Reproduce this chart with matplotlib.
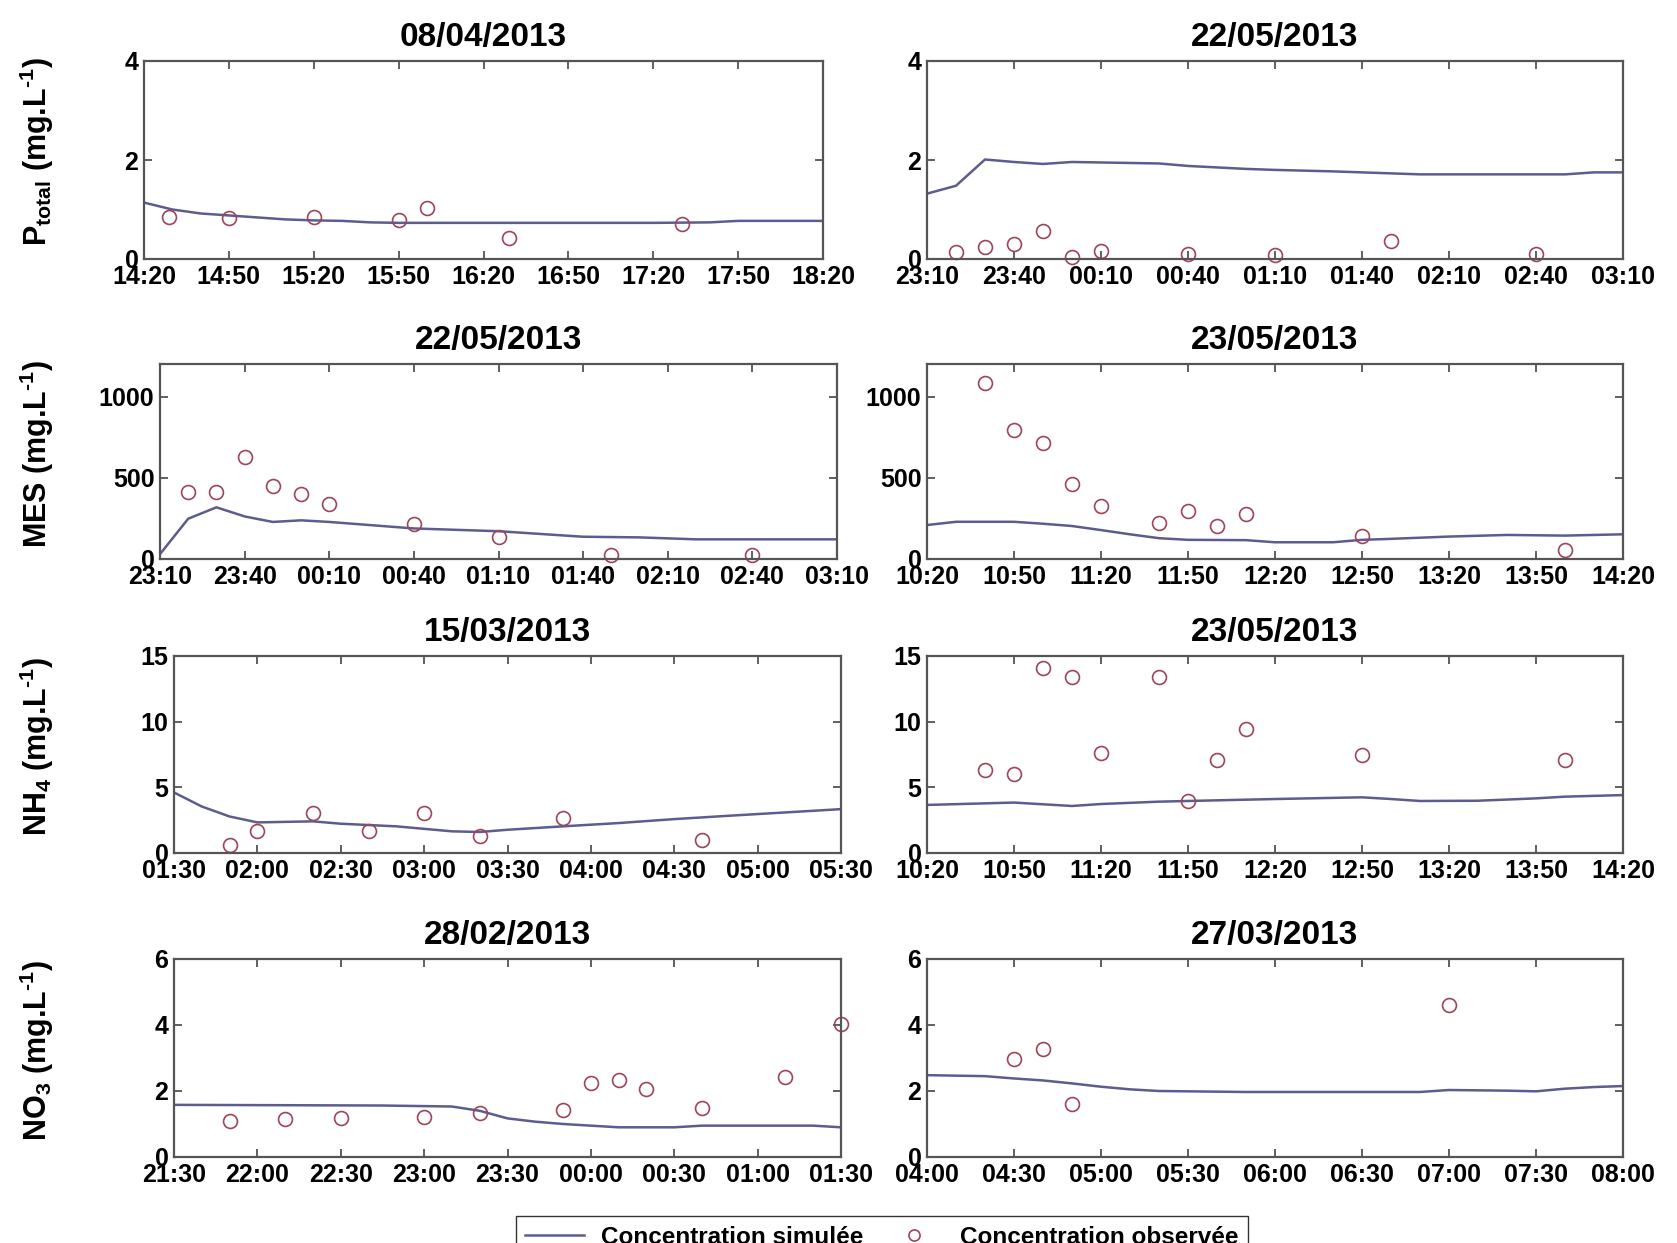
import matplotlib
matplotlib.use("Agg")
import matplotlib.pyplot as plt
from matplotlib.lines import Line2D

plt.rcParams["font.family"] = ["Liberation Sans", "DejaVu Sans"]
plt.rcParams["font.weight"] = "bold"
plt.rcParams["mathtext.fontset"] = "custom"
plt.rcParams["mathtext.rm"] = "Liberation Sans:bold"
plt.rcParams["mathtext.bf"] = "Liberation Sans:bold"
plt.rcParams["mathtext.default"] = "bf"

# ---- data: times as HH:MM, values in mg/L ----
# P total, 08/04/2013
p1_ticks = ["14:20", "14:50", "15:20", "15:50", "16:20", "16:50", "17:20", "17:50", "18:20"]
p1_sim_t = ["14:20", "14:30", "14:40", "14:50", "15:00", "15:10", "15:20", "15:30", "15:40",
            "15:50", "16:30", "17:20", "17:40", "17:50", "18:20"]
p1_sim = [1.14, 1.00, 0.92, 0.88, 0.84, 0.80, 0.78, 0.77, 0.74, 0.73, 0.73, 0.73, 0.74, 0.77, 0.77]
p1_obs_t = ["14:29", "14:50", "15:20", "15:50", "16:00", "16:29", "17:30"]
p1_obs = [0.84, 0.83, 0.84, 0.79, 1.03, 0.42, 0.71]

# P total, 22/05/2013
p2_ticks = ["23:10", "23:40", "00:10", "00:40", "01:10", "01:40", "02:10", "02:40", "03:10"]
p2_sim_t = ["23:10", "23:20", "23:30", "23:40", "23:50", "00:00", "00:10", "00:30", "00:40",
            "01:00", "01:10", "01:30", "01:50", "02:00", "02:50", "03:00", "03:10"]
p2_sim = [1.32, 1.48, 2.01, 1.96, 1.92, 1.96, 1.95, 1.93, 1.88, 1.82, 1.80, 1.77, 1.73,
          1.71, 1.71, 1.75, 1.75]
p2_obs_t = ["23:20", "23:30", "23:40", "23:50", "00:00", "00:10", "00:40", "01:10", "01:50", "02:40"]
p2_obs = [0.15, 0.24, 0.30, 0.56, 0.05, 0.17, 0.10, 0.08, 0.37, 0.10]

# MES, 22/05/2013
m1_ticks = p2_ticks
m1_sim_t = ["23:10", "23:20", "23:30", "23:40", "23:50", "00:00", "00:10", "00:40", "01:10",
            "01:40", "02:00", "02:20", "03:10"]
m1_sim = [30, 248, 318, 262, 228, 238, 228, 188, 171, 137, 133, 121, 121]
m1_obs_t = ["23:20", "23:30", "23:40", "23:50", "00:00", "00:10", "00:40", "01:10", "01:50", "02:40"]
m1_obs = [411, 413, 625, 450, 403, 339, 214, 133, 22, 22]

# MES, 23/05/2013
m2_ticks = ["10:20", "10:50", "11:20", "11:50", "12:20", "12:50", "13:20", "13:50", "14:20"]
m2_sim_t = ["10:20", "10:30", "10:50", "11:00", "11:10", "11:20", "11:30", "11:40", "11:50",
            "12:10", "12:20", "12:40", "12:50", "13:00", "13:20", "13:40", "14:00", "14:20"]
m2_sim = [209, 229, 229, 217, 203, 178, 152, 128, 118, 116, 103, 103, 118, 124, 138, 148, 144, 152]
m2_obs_t = ["10:40", "10:50", "11:00", "11:10", "11:20", "11:40", "11:50", "12:00", "12:10",
            "12:50", "14:00"]
m2_obs = [1085, 791, 712, 462, 327, 223, 294, 205, 280, 140, 57]

# NH4, 15/03/2013
n1_ticks = ["01:30", "02:00", "02:30", "03:00", "03:30", "04:00", "04:30", "05:00", "05:30"]
n1_sim_t = ["01:30", "01:40", "01:50", "02:00", "02:20", "02:30", "02:50", "03:10", "03:20",
            "03:30", "03:50", "04:10", "04:30", "04:50", "05:10", "05:30"]
n1_sim = [4.61, 3.54, 2.78, 2.33, 2.41, 2.23, 2.03, 1.65, 1.60, 1.77, 2.03, 2.28, 2.58,
          2.84, 3.09, 3.34]
n1_obs_t = ["01:50", "02:00", "02:20", "02:40", "03:00", "03:20", "03:50", "04:40"]
n1_obs = [0.58, 1.70, 3.04, 1.70, 3.04, 1.32, 2.66, 0.96]

# NH4, 23/05/2013
n2_ticks = m2_ticks
n2_sim_t = ["10:20", "10:50", "11:10", "11:20", "11:40", "11:50", "12:20", "12:50", "13:00",
            "13:10", "13:30", "13:50", "14:00", "14:20"]
n2_sim = [3.66, 3.84, 3.58, 3.73, 3.91, 3.96, 4.11, 4.24, 4.11, 3.96, 3.98, 4.16, 4.29, 4.41]
n2_obs_t = ["10:40", "10:50", "11:00", "11:10", "11:20", "11:40", "11:50", "12:00", "12:10",
            "12:50", "14:00"]
n2_obs = [6.35, 6.0, 14.1, 13.4, 7.6, 13.4, 3.96, 7.06, 9.45, 7.44, 7.06]

# NO3, 28/02/2013
o1_ticks = ["21:30", "22:00", "22:30", "23:00", "23:30", "00:00", "00:30", "01:00", "01:30"]
o1_sim_t = ["21:30", "22:45", "23:10", "23:20", "23:30", "23:40", "23:50", "00:00", "00:10",
            "00:30", "00:40", "01:20", "01:30"]
o1_sim = [1.58, 1.56, 1.53, 1.40, 1.17, 1.07, 1.00, 0.95, 0.90, 0.90, 0.95, 0.95, 0.90]
o1_obs_t = ["21:50", "22:10", "22:30", "23:00", "23:20", "23:50", "00:00", "00:10", "00:20",
            "00:40", "01:10", "01:30"]
o1_obs = [1.10, 1.15, 1.18, 1.20, 1.33, 1.43, 2.25, 2.32, 2.05, 1.47, 2.42, 4.04]

# NO3, 27/03/2013
o2_ticks = ["04:00", "04:30", "05:00", "05:30", "06:00", "06:30", "07:00", "07:30", "08:00"]
o2_sim_t = ["04:00", "04:20", "04:30", "04:40", "04:50", "05:00", "05:10", "05:20", "05:50",
            "06:50", "07:00", "07:20", "07:30", "07:40", "07:50", "08:00"]
o2_sim = [2.48, 2.45, 2.38, 2.32, 2.23, 2.13, 2.05, 2.00, 1.97, 1.97, 2.03, 2.01, 1.99,
          2.07, 2.12, 2.15]
o2_obs_t = ["04:30", "04:40", "04:50", "07:00"]
o2_obs = [2.96, 3.28, 1.60, 4.61]

LINE_C = "#5c5c8e"
OBS_C = "#a04458"


def minutes(times, start):
    """HH:MM strings -> minutes after start, wrapping past midnight."""
    h0, m0 = map(int, start.split(":"))
    out = []
    for t in times:
        h, m = map(int, t.split(":"))
        d = (h * 60 + m) - (h0 * 60 + m0)
        if d < 0:
            d += 24 * 60
        out.append(d)
    return out


panels = [
    # (axes rect in px: left, right, top, bottom), title, ticks, sim_t, sim, obs_t, obs, ylim, yticks
    ((144, 823, 61, 259), "08/04/2013", p1_ticks, p1_sim_t, p1_sim, p1_obs_t, p1_obs, 4, [0, 2, 4]),
    ((927, 1623, 61, 259), "22/05/2013", p2_ticks, p2_sim_t, p2_sim, p2_obs_t, p2_obs, 4, [0, 2, 4]),
    ((160, 837, 364, 559), "22/05/2013", m1_ticks, m1_sim_t, m1_sim, m1_obs_t, m1_obs, 1200, [0, 500, 1000]),
    ((927, 1623, 364, 559), "23/05/2013", m2_ticks, m2_sim_t, m2_sim, m2_obs_t, m2_obs, 1200, [0, 500, 1000]),
    ((174, 841, 656, 853), "15/03/2013", n1_ticks, n1_sim_t, n1_sim, n1_obs_t, n1_obs, 15, [0, 5, 10, 15]),
    ((927, 1623, 656, 853), "23/05/2013", n2_ticks, n2_sim_t, n2_sim, n2_obs_t, n2_obs, 15, [0, 5, 10, 15]),
    ((174, 841, 959, 1157), "28/02/2013", o1_ticks, o1_sim_t, o1_sim, o1_obs_t, o1_obs, 6, [0, 2, 4, 6]),
    ((927, 1623, 959, 1157), "27/03/2013", o2_ticks, o2_sim_t, o2_sim, o2_obs_t, o2_obs, 6, [0, 2, 4, 6]),
]

ylabels = [
    r"$\mathbf{P_{total}}$ (mg.L$^{\text{-}1}$)",
    r"MES (mg.L$^{\text{-}1}$)",
    r"$\mathbf{NH_4}$ (mg.L$^{\text{-}1}$)",
    r"$\mathbf{NO_3}$ (mg.L$^{\text{-}1}$)",
]

W, H = 1677, 1243
fig = plt.figure(figsize=(W / 100, H / 100), dpi=100)

for (l, r, t, b), title, ticks, sim_t, sim, obs_t, obs, ymax, yticks in panels:
    ax = fig.add_axes([l / W, 1 - b / H, (r - l) / W, (b - t) / H])
    start = ticks[0]
    ax.plot(minutes(sim_t, start), sim, color=LINE_C, lw=1.8)
    ax.plot(minutes(obs_t, start), obs, "o", ms=10, mfc="none", mec=OBS_C, mew=1.2,
            clip_on=False)
    ax.set_xlim(0, 240)
    ax.set_ylim(0, ymax)
    ax.set_xticks(range(0, 241, 30))
    ax.set_xticklabels(ticks)
    ax.set_yticks(yticks)
    ax.tick_params(direction="in", top=True, right=True, length=6, width=1.2,
                   labelsize=18, pad=4, color="#444444")
    for lab in ax.get_xticklabels() + ax.get_yticklabels():
        lab.set_fontweight("bold")
    for s in ax.spines.values():
        s.set_linewidth(1.6)
        s.set_color("#555555")
    ax.set_title(title, fontsize=24, fontweight="bold", pad=11)

for i, lab in enumerate(ylabels):
    l, r, t, b = panels[2 * i][0]
    fig.text(37 / W, 1 - ((t + b) / 2 - 8) / H, lab, rotation=90, ha="center", va="center",
             fontsize=22, fontweight="bold")

handles = [
    Line2D([], [], color=LINE_C, lw=1.8),
    Line2D([], [], marker="o", ls="none", ms=8, mfc="none", mec=OBS_C, mew=1.2),
]
fig.legend(handles, ["Concentration simulée", "Concentration observée"], ncol=2,
           loc="upper center", bbox_to_anchor=(882 / W, 1 - 1204 / H), frameon=True,
           fancybox=False, edgecolor="black", fontsize=17.5, handlelength=2.4,
           columnspacing=0.9, borderpad=0.4, handletextpad=0.7)

fig.savefig("out.png", dpi=100)
